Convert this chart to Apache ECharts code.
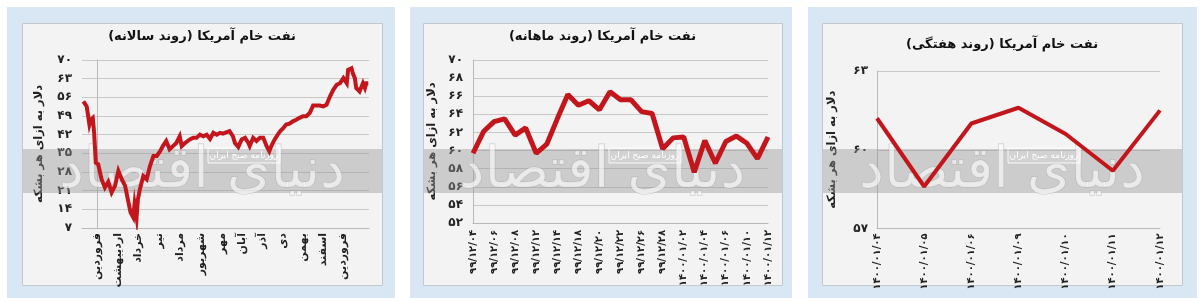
<!DOCTYPE html>
<html><head><meta charset="utf-8">
<script src="https://cdn.jsdelivr.net/npm/echarts@6/dist/echarts.min.js"></script>
<style>html,body{margin:0;padding:0;background:#fff}#c{width:1200px;height:298px}</style>
</head><body><div id="c"></div>
<script>
const FONT = 'DejaVu Sans';
const RLM = '\u200F';
const yearlyTitle = 'نفت خام آمریکا (روند سالانه)';
const monthlyTitle = 'نفت خام آمریکا (روند ماهانه)';
const weeklyTitle = 'نفت خام آمریکا (روند هفتگی)';
const yAxisName = 'دلار به ازای هر بشکه';
const watermarkText = 'دنیای اقتصاد';
const watermarkSub = 'روزنامه صبح ایران';

// yearly panel: x = day index from 1 Farvardin 1399
const yearlyMonthNames = ['فروردین','اردیبهشت','خرداد','تیر','مرداد','شهریور','مهر','آبان','آذر','دی','بهمن','اسفند','فروردین'];
const yearlyMonthStartDays = [0,31,62,93,124,155,186,216,246,276,306,336,366];
const yearlyDays = [-20,-15,-11,-9,-6,-4,-1.5,2,7,12,17,22,27,32,37,42,46,50,54,56,59,61,64,69,74,79,84,89,94,98,103,108,113,118,123,126,131,138,143,148,153,158,163,168,173,178,183,187,192,197,202,205,210,215,220,225,227,232,237,242,247,249,252,256,259,264,267,272,277,281,286,291,296,301,306,311,316,321,326,331,336,341,346,351,356,361,366,371,373,378,380,383,385,390,393,395,398,400,403];
const yearlyPrices = [54.5,52.6,45.8,47.6,48.3,42.7,31.5,30.9,25.3,22.2,24.3,20.3,22.8,28.4,25.3,22.8,17.8,12.9,11,16,11,17.8,21.6,26.5,25.3,30.3,34,34,35.8,37.7,39.6,36.5,37.7,38.9,41.4,37.7,38.9,40.2,40.8,40.8,42,41.4,42,40.4,42.7,42,42.7,42.4,42.9,43.3,41.4,38.9,37.4,40.2,40.8,38.9,37.7,40.8,39.6,40.8,40.8,39.6,37.7,35.8,37.7,40.2,41.4,43.3,44.5,45.8,46.1,47,47.6,48.3,48.9,48.9,50.1,52.9,52.9,52.9,52.6,53.2,56.3,58.8,60.7,61.3,63.2,61.3,66.3,66.9,65,63.2,59.5,58.2,60.1,61.3,59.5,61.3,61.3];

// monthly panel
const monthlyDates = ['99/12/04','99/12/05','99/12/06','99/12/07','99/12/08','99/12/11','99/12/12','99/12/13','99/12/14','99/12/15','99/12/18','99/12/19','99/12/20','99/12/21','99/12/22','99/12/25','99/12/26','99/12/27','99/12/28','99/12/29','1400/01/02','1400/01/03','1400/01/04','1400/01/05','1400/01/06','1400/01/09','1400/01/10','1400/01/11','1400/01/12'];
const monthlyPrices = [59.7,62.1,63.2,63.5,61.7,62.5,59.7,60.7,63.5,66.2,65.0,65.5,64.5,66.5,65.6,65.6,64.3,64.1,60.2,61.4,61.5,57.6,61.1,58.6,61.0,61.6,60.8,59.1,61.5];

// weekly panel
const weeklyDates = ['1400/01/04','1400/01/05','1400/01/06','1400/01/09','1400/01/10','1400/01/11','1400/01/12'];
const weeklyPrices = [61.2,58.6,61.0,61.6,60.6,59.2,61.5];

const fa = s => String(s).replace(/\d/g, d => '۰۱۲۳۴۵۶۷۸۹'[d]).replace('.', '/');

const RED = '#c3161c';
const panels = [
  {ox:7, ow:388, ix:22, iw:360, title:yearlyTitle, ty:30},
  {ox:410, ow:382, ix:423, iw:359, title:monthlyTitle, ty:30},
  {ox:808, ow:389, ix:822, iw:360, title:weeklyTitle, ty:38}
];

const graphic = [];
panels.forEach(p => {
  graphic.push({type:'rect', z:-20, shape:{x:p.ox, y:7, width:p.ow, height:291}, style:{fill:'#d9e7f5'}, silent:true});
  graphic.push({type:'rect', z:-15, shape:{x:p.ix+0.5, y:23.5, width:p.iw, height:262}, style:{fill:'#f3f3f3', stroke:'#c3c8cf', lineWidth:1}, silent:true});
  graphic.push({type:'rect', z:1, shape:{x:p.ix+1, y:149, width:p.iw-1, height:44}, style:{fill:'rgba(150,150,150,0.42)'}, silent:true});
  graphic.push({type:'text', z:1, x:p.ix + p.iw/2, y:172, style:{text:RLM + watermarkText + RLM, font:'56px "DejaVu Sans"', fill:'rgba(255,255,255,0.6)', stroke:'rgba(165,165,165,0.55)', lineWidth:1, textAlign:'center', textVerticalAlign:'middle'}, silent:true});
  graphic.push({type:'rect', z:1, shape:{x:p.ix+186, y:148, width:72, height:15}, style:{fill:'rgba(255,255,255,0.12)', stroke:'rgba(255,255,255,0.85)', lineWidth:1}, silent:true});
  graphic.push({type:'text', z:1, x:p.ix+222, y:155.5, style:{text:RLM + watermarkSub + RLM, font:'9px "DejaVu Sans"', fill:'#ffffff', textAlign:'center', textVerticalAlign:'middle'}, silent:true});
});

const yBase = {
  type:'value',
  axisLine:{show:true, lineStyle:{color:'#b8b8b8', width:1}},
  axisTick:{show:false},
  splitLine:{show:true, lineStyle:{color:'#c8c8c8', width:1}},
  axisLabel:{color:'#222', fontFamily:FONT, fontSize:12, fontWeight:'bold', formatter: v => fa(v)},
  name: yAxisName, nameLocation:'middle',
  nameTextStyle:{fontFamily:FONT, fontSize:11.5, fontWeight:'bold', color:'#222'}
};
const xLabel = {color:'#222', fontFamily:FONT, fontWeight:'bold', rotate:90};

const option = {
  animation:false,
  backgroundColor:'#ffffff',
  graphic: graphic,
  title: panels.map(p => ({
    text: RLM + p.title + RLM, left: p.ix + p.iw/2, top: p.ty, textAlign:'center', padding:0,
    textStyle:{fontFamily:FONT, fontSize:13, fontWeight:'bold', color:'#111'}
  })),
  grid:[
    {left:82, top:60, width:287, height:168},
    {left:473, top:60, width:295, height:163},
    {left:877, top:71, width:283, height:157.5}
  ],
  xAxis:[
    {type:'value', gridIndex:0, min:-22, max:404,
     axisLine:{show:true, lineStyle:{color:'#b8b8b8'}}, axisTick:{show:false}, splitLine:{show:false},
     axisLabel:Object.assign({}, xLabel, {fontSize:11, margin:5, customValues:yearlyMonthStartDays,
       formatter: v => { const i = yearlyMonthStartDays.indexOf(v); return i >= 0 ? yearlyMonthNames[i] : ''; }})},
    {type:'category', gridIndex:1, data:monthlyDates, boundaryGap:false,
     axisLine:{show:true, lineStyle:{color:'#b8b8b8'}}, axisTick:{show:false}, splitLine:{show:false},
     axisLabel:Object.assign({}, xLabel, {fontSize:10, margin:7, interval:1, formatter: v => fa(v)})},
    {type:'category', gridIndex:2, data:weeklyDates, boundaryGap:false,
     axisLine:{show:true, lineStyle:{color:'#b8b8b8'}}, axisTick:{show:false}, splitLine:{show:false},
     axisLabel:Object.assign({}, xLabel, {fontSize:10, margin:5, interval:0, formatter: v => fa(v)})}
  ],
  yAxis:[
    Object.assign({}, yBase, {gridIndex:0, min:7, max:70, interval:7, nameGap:37, axisLabel:Object.assign({}, yBase.axisLabel, {margin:10})}),
    Object.assign({}, yBase, {gridIndex:1, min:52, max:70, interval:2, nameGap:35, axisLabel:Object.assign({}, yBase.axisLabel, {margin:10})}),
    Object.assign({}, yBase, {gridIndex:2, min:57, max:63, interval:3, nameGap:39, axisLabel:Object.assign({}, yBase.axisLabel, {margin:9})})
  ],
  series:[
    {type:'line', xAxisIndex:0, yAxisIndex:0, z:3, showSymbol:false, silent:true,
     data: yearlyDays.map((d,i) => [d, yearlyPrices[i]]),
     lineStyle:{color:RED, width:4, join:'miter'}},
    {type:'line', xAxisIndex:1, yAxisIndex:1, z:3, showSymbol:false, silent:true,
     data: monthlyPrices, lineStyle:{color:RED, width:5}},
    {type:'line', xAxisIndex:2, yAxisIndex:2, z:3, showSymbol:false, silent:true,
     data: weeklyPrices.map((v,i) => i === weeklyPrices.length-1 ?
       {value:v, label:{show:true, position:'top', distance:8, offset:[-9,0], formatter: () => fa(v), fontFamily:FONT, fontSize:12, color:'#222'}} : v),
     lineStyle:{color:RED, width:4}}
  ]
};
const chart = echarts.init(document.getElementById('c'), null, {renderer:'canvas'});
chart.setOption(option);
</script>
</body></html>
